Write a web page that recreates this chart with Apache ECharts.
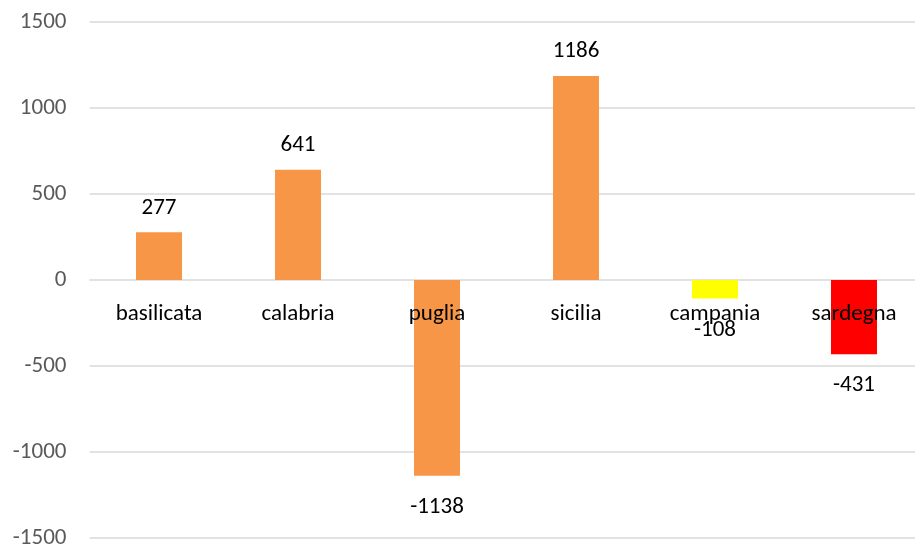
<!DOCTYPE html>
<html>
<head>
<meta charset="utf-8">
<script src="https://cdn.jsdelivr.net/npm/echarts@6/dist/echarts.min.js"></script>
<style>
html,body{margin:0;padding:0;background:#fff;}
#c{width:915px;height:548px;}
</style>
</head>
<body>
<div id="c"></div>
<script>
const categories = ['basilicata', 'calabria', 'puglia', 'sicilia', 'campania', 'sardegna'];
const values = [277, 641, -1138, 1186, -108, -431];
const barColors = ['#F79646', '#F79646', '#F79646', '#F79646', '#FFFF00', '#FF0000'];

const FONT = 'Carlito, Lato, "Open Sans", sans-serif';
const chart = echarts.init(document.getElementById('c'), null, {renderer: 'canvas'});
chart.setOption({
  animation: false,
  grid: {left: 89.5, top: 22, width: 834, height: 516, containLabel: false, outerBoundsMode: 'none'},
  xAxis: {
    type: 'category',
    data: categories,
    z: 10,
    position: 'bottom',
    offset: -258,
    axisLine: {show: false, onZero: false},
    axisTick: {show: false},
    axisLabel: {color: '#000', fontSize: 23, fontFamily: FONT, margin: 23, interval: 0}
  },
  yAxis: {
    type: 'value',
    min: -1500, max: 1500, interval: 500,
    axisLine: {show: false},
    axisTick: {show: false},
    splitLine: {lineStyle: {color: '#d9d9d9', width: 1.5}},
    axisLabel: {color: '#595959', fontSize: 23, fontFamily: FONT, margin: 23, formatter: v => String(v)}
  },
  series: [{
    type: 'bar',
    barWidth: 46,
    data: values.map((v, i) => ({
      value: v,
      itemStyle: {color: barColors[i]},
      label: {position: v >= 0 ? 'top' : 'bottom', distance: v >= 0 ? 13 : 20}
    })),
    label: {show: true, color: '#000', fontSize: 23, fontFamily: FONT}
  }]
});
</script>
</body>
</html>
